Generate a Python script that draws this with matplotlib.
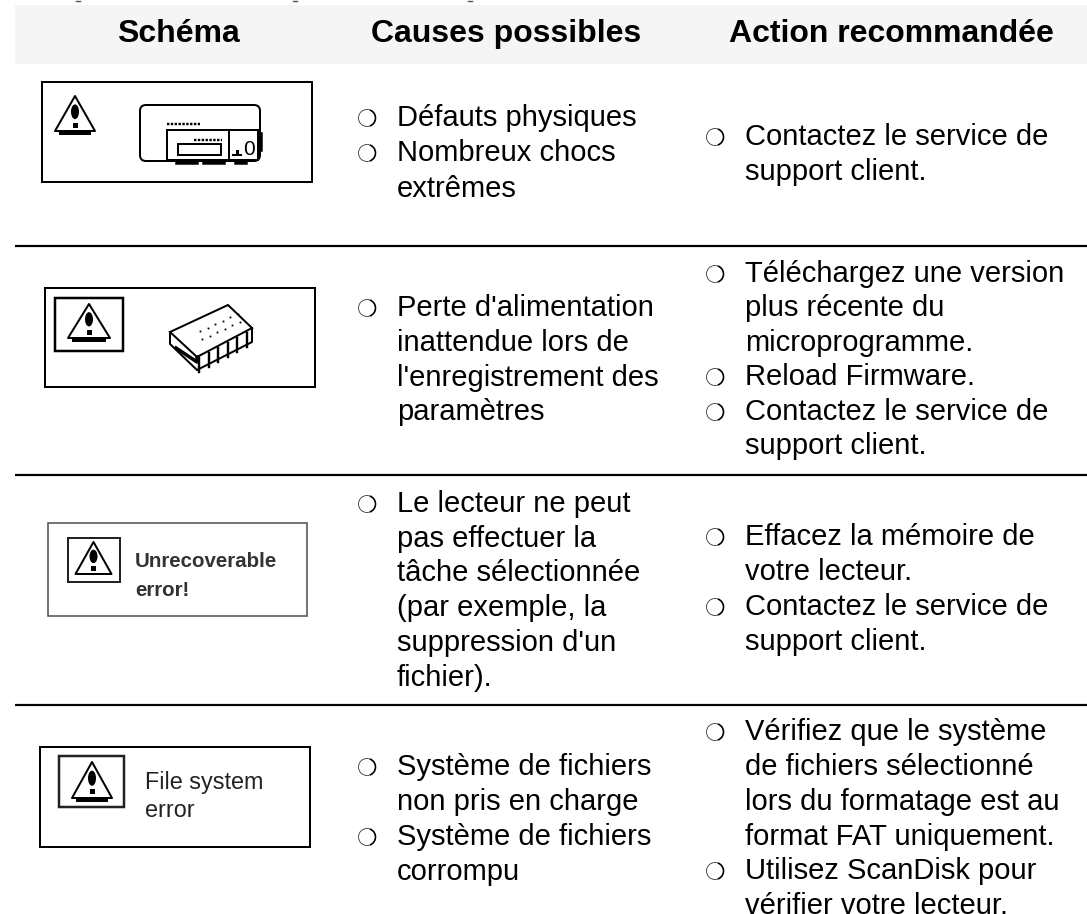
import numpy as np
from matplotlib import pyplot as plt
from matplotlib.patches import Rectangle, Circle, Arc, Polygon, Ellipse, FancyBboxPatch

# headers and the text of each table cell, (line text, starts with bullet, baseline y in px)
headers = ["Schéma", "Causes possibles", "Action recommandée"]
header_x = [178, 506, 891]

causes = [
    ("Défauts physiques", True, 126), ("Nombreux chocs", True, 161), ("extrêmes", False, 197),
    ("Perte d'alimentation", True, 316), ("inattendue lors de", False, 351),
    ("l'enregistrement des", False, 386), ("paramètres", False, 420),
    ("Le lecteur ne peut", True, 512), ("pas effectuer la", False, 547),
    ("tâche sélectionnée", False, 581), ("(par exemple, la", False, 616),
    ("suppression d'un", False, 651), ("fichier).", False, 686),
    ("Système de fichiers", True, 775), ("non pris en charge", False, 810),
    ("Système de fichiers", True, 845), ("corrompu", False, 880),
]

actions = [
    ("Contactez le service de", True, 145), ("support client.", False, 180),
    ("Téléchargez une version", True, 282), ("plus récente du", False, 316),
    ("microprogramme.", False, 351), ("Reload Firmware.", True, 385),
    ("Contactez le service de", True, 420), ("support client.", False, 454),
    ("Effacez la mémoire de", True, 545), ("votre lecteur.", False, 580),
    ("Contactez le service de", True, 615), ("support client.", False, 650),
    ("Vérifiez que le système", True, 740), ("de fichiers sélectionné", False, 775),
    ("lors du formatage est au", False, 810), ("format FAT uniquement.", False, 845),
    ("Utilisez ScanDisk pour", True, 879), ("vérifier votre lecteur.", False, 914),
]

rule_y = [245.5, 475, 705]
cut_marks_x = [78, 295, 470]

plt.rcParams['font.family'] = ['Liberation Sans', 'DejaVu Sans']

PX = 72 / 100  # one pixel in points at dpi 100

fig = plt.figure(figsize=(10.87, 9.14), dpi=100)
ax = fig.add_axes([0, 0, 1, 1])
ax.set_xlim(0, 1087)
ax.set_ylim(914, 0)
ax.axis('off')


def bullet(x, y):
    ax.add_patch(Circle((x, y), 8.5, fill=False, ec='#444444', lw=0.9 * PX))
    ax.add_patch(Arc((x, y), 17, 17, theta1=-70, theta2=70, ec='black', lw=1.6 * PX))


def column(lines, text_x, bullet_x):
    for text, has_bullet, y in lines:
        ax.text(text_x, y, text, fontsize=21, va='baseline', ha='left', color='black')
        if has_bullet:
            bullet(bullet_x, y - 8)


def warning(cx, top, half, bottom, lw=2.0, bar=True):
    tri = Polygon([(cx, top), (cx + half, bottom), (cx - half, bottom)], closed=True,
                  fill=False, ec='black', lw=lw * PX, joinstyle='round')
    ax.add_patch(tri)
    h = bottom - top
    ax.add_patch(Ellipse((cx, top + 0.45 * h), 8, 0.42 * h, fc='black', ec='none'))
    ax.add_patch(Rectangle((cx - 2.5, top + 0.76 * h), 5, 5, fc='black', ec='none'))
    if bar:
        ax.plot([cx - half + 4, cx + half - 4], [bottom + 2, bottom + 2], color='black', lw=4 * PX,
                solid_capstyle='butt')


def box(x0, y0, x1, y1, lw=2.0, color='black'):
    ax.add_patch(Rectangle((x0, y0), x1 - x0, y1 - y0, fill=False, ec=color, lw=lw * PX))


# header band
ax.add_patch(Rectangle((15, 5), 1072, 59, fc='#f5f5f5', ec='none'))
for label, x in zip(headers, header_x):
    ax.text(x, 42, label, fontsize=23, fontweight='bold', ha='center', va='baseline')

# tails of the line cut off above the table
for x in cut_marks_x:
    ax.plot([x - 2, x + 2], [0.7, 0.7], color='#555555', lw=1.4 * PX)

for y in rule_y:
    ax.plot([15, 1087], [y, y], color='black', lw=2.2 * PX, solid_capstyle='butt')

column(causes, 397, 367)
column(actions, 745, 715)

# icon 1: drive
box(42, 82, 312, 182)
warning(75, 96, 20, 131)
ax.add_patch(FancyBboxPatch((140, 105), 120, 56, boxstyle="round,pad=0,rounding_size=6",
                            fill=False, ec='black', lw=2 * PX))
box(167, 130, 229, 160, lw=2)
box(178, 144, 221, 155, lw=2)
box(229, 130, 258, 160, lw=2)
ax.plot([167, 200], [124, 124], color='black', lw=2.4 * PX, ls=(0, (1, 0.6)))
ax.plot([194, 222], [140, 140], color='black', lw=2.4 * PX, ls=(0, (1, 0.6)))
ax.text(249, 155, "0", fontsize=15, ha='center', va='baseline', color='black')
ax.plot([237, 237], [151, 154], color='black', lw=3 * PX)
ax.plot([233, 241], [155, 155], color='black', lw=2 * PX)
ax.plot([261, 261], [134, 150], color='black', lw=3.5 * PX)
for x0, x1 in [(177, 197), (204, 224), (236, 246)]:
    ax.plot([x0, x1], [163, 163], color='black', lw=3.5 * PX)

# icon 2: chip
box(45, 288, 315, 387)
box(55, 298, 123, 351, lw=2.5)
warning(89, 304, 21, 338)
chip_top = [(170, 332), (228, 305), (252, 328), (197, 357)]
ax.add_patch(Polygon(chip_top, closed=True, fill=False, ec='black', lw=2 * PX))
ax.plot([170, 170, 197, 252, 252], [332, 344, 370, 342, 328], color='black', lw=2 * PX)
ax.plot([176, 197, 197], [348, 362, 357], color='black', lw=3.5 * PX)
for i in range(6):
    x = 199 + i * 9.5
    y = 358 - i * 5
    ax.plot([x, x], [y, y + 14], color='black', lw=2.4 * PX)
for i in range(6):
    ax.plot(200 + i * 7.5, 331 - i * 3.5, 's', color='black', ms=1.8 * PX, mew=0)
    ax.plot(202 + i * 7.5, 339 - i * 3.5, 's', color='black', ms=1.8 * PX, mew=0)

# icon 3: unrecoverable error
box(48, 523, 307, 616, lw=1.6, color='#555555')
box(68, 538, 120, 582, lw=2.0, color='#222222')
warning(93.5, 542, 18, 574, bar=False)
ax.text(135, 567, "Unrecoverable", fontsize=14.8, fontweight='bold', color='#333333', va='baseline')
ax.text(135, 596, "error!", fontsize=14.8, fontweight='bold', color='#333333', va='baseline')

# icon 4: file system error
box(40, 747, 310, 847)
box(59, 756, 124, 807, lw=2.5, color='#222222')
warning(92, 762, 20, 798)
ax.text(145, 789, "File system", fontsize=16.8, color='#222222', va='baseline')
ax.text(145, 817, "error", fontsize=16.8, color='#222222', va='baseline')

fig.savefig("out.png", dpi=100)
